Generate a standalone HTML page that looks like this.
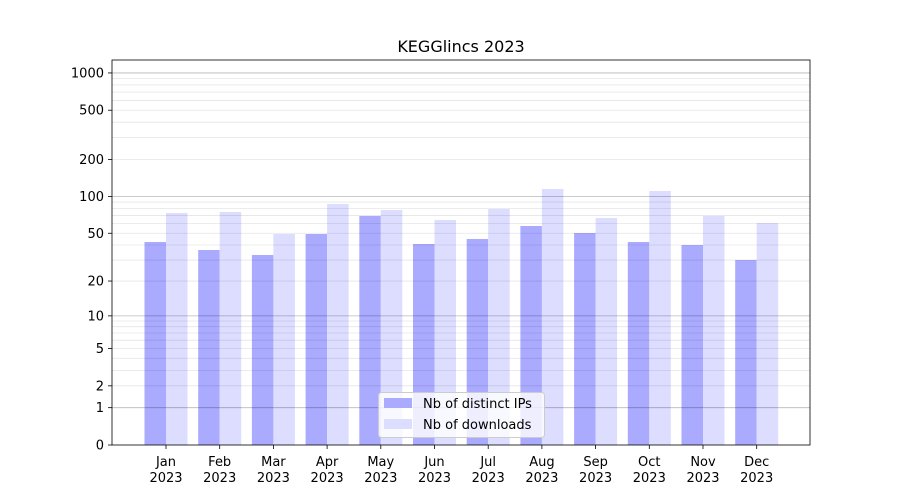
<!DOCTYPE html>
<html><head><meta charset="utf-8"><style>
html,body{margin:0;padding:0;background:#fff;}
svg{display:block;font-family:"DejaVu Sans","Liberation Sans",sans-serif;}
</style></head><body>
<svg id="c" width="900" height="500" xmlns="http://www.w3.org/2000/svg"></svg>
<script>
const s=document.getElementById('c');let h='';
const Y=v=>445-124*Math.log10(1+v);
const ip=[242,250,255,234,216,244,239,226,233,242,245,260];
const dl=[213,212,234,204,210,220,209,189,218,191,216,223];
const m=['Jan','Feb','Mar','Apr','May','Jun','Jul','Aug','Sep','Oct','Nov','Dec'];
for(let i=0;i<12;i++){const c=166+i*53.7;
h+=`<rect x="${c-21.5}" y="${ip[i]}" width="21.5" height="${445-ip[i]}" fill="#aaaaff"/>`;
h+=`<rect x="${c}" y="${dl[i]}" width="21.5" height="${445-dl[i]}" fill="#ddddff"/>`;
h+=`<line x1="${c}" x2="${c}" y1="445" y2="449" stroke="#000" stroke-width="0.8"/>`;
h+=`<text x="${c}" y="466" font-size="13" text-anchor="middle">${m[i]}</text><text x="${c}" y="482" font-size="13" text-anchor="middle">2023</text>`;}
const minors=[];
for(let d=1;d<=1000;d*=10)for(let k=2;k<=9;k++){const v=d*k;if(Y(v)>60)minors.push(v);}
minors.forEach(v=>{h+=`<line x1="112" x2="810" y1="${Y(v)}" y2="${Y(v)}" stroke="#000" stroke-opacity="0.1" stroke-width="0.8"/>`;});
[1,10,100,1000].forEach(v=>{h+=`<line x1="112" x2="810" y1="${Y(v)}" y2="${Y(v)}" stroke="#000" stroke-opacity="0.28" stroke-width="0.8"/>`;});
[0,1,2,5,10,20,50,100,200,500,1000].forEach(v=>{const y=Y(v);
h+=`<line x1="108" x2="112" y1="${y}" y2="${y}" stroke="#000" stroke-width="0.8"/>`;
h+=`<text x="104" y="${y+4.5}" font-size="13" text-anchor="end">${v}</text>`;});
h+=`<rect x="112" y="60" width="698" height="385" fill="none" stroke="#000" stroke-width="0.8"/>`;
h+=`<text x="461" y="52" font-size="16" text-anchor="middle">KEGGlincs 2023</text>`;
h+=`<rect x="378.5" y="392.5" width="166" height="45" rx="3" fill="#fff" fill-opacity="0.8" stroke="#ccc"/>`;
h+=`<rect x="384" y="398" width="28" height="10" fill="#aaaaff"/><text x="423" y="408" font-size="13">Nb of distinct IPs</text>`;
h+=`<rect x="384" y="419" width="28" height="10" fill="#ddddff"/><text x="423" y="429" font-size="13">Nb of downloads</text>`;
s.innerHTML=h;
</script>
</body></html>
